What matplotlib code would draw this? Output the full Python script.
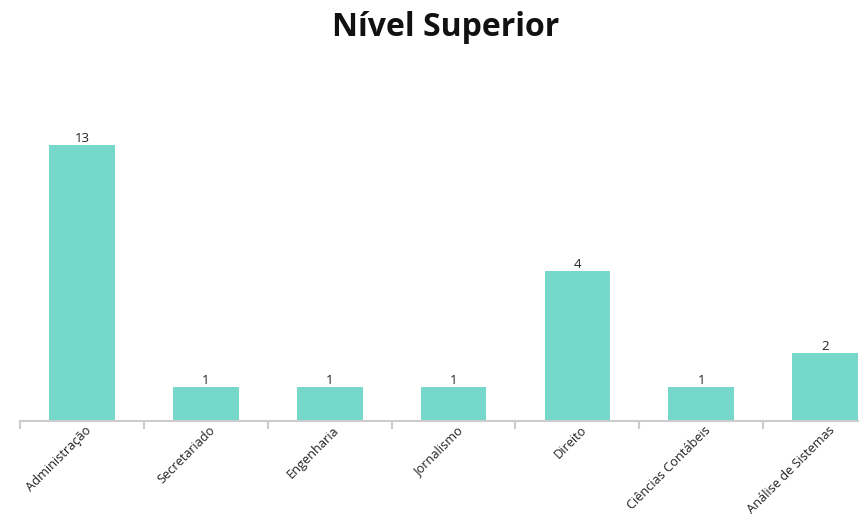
import numpy as np
import matplotlib.pyplot as plt
import matplotlib.transforms as mtransforms

# data
cursos = ["Administração", "Secretariado", "Engenharia", "Jornalismo",
          "Direito", "Ciências Contábeis", "Análise de Sistemas"]
valores = [13, 1, 1, 1, 4, 1, 2]

# the original chart uses a non-linear value axis; knots
# (value -> pixel height above the baseline)
escala_valor = [0, 1, 2, 4, 13, 30]
escala_px = [0, 34, 68, 150, 276, 514]


def forward(v):
    return np.interp(v, escala_valor, escala_px)


def inverse(p):
    return np.interp(p, escala_px, escala_valor)


plt.rcParams['font.family'] = ['Open Sans', 'DejaVu Sans']

fig = plt.figure(figsize=(8.6, 5.17), dpi=100)
ax = fig.add_axes([20 / 860, 96 / 517, 838 / 860, 321 / 517])

x = np.arange(len(cursos))
bars = ax.bar(x, valores, width=0.53, color='#76d8cb', zorder=2)
ax.set_yscale('function', functions=(forward, inverse))
ax.set_ylim(0, 16.2)
ax.set_xlim(-0.5, 6.265)

ax.bar_label(bars, labels=[str(v) for v in valores], padding=0,
             fontsize=9.5, color='#222222')

for s in ['top', 'right', 'left']:
    ax.spines[s].set_visible(False)
ax.spines['bottom'].set_color('#cccccc')
ax.spines['bottom'].set_linewidth(1.5)
ax.set_yticks([])

ax.set_xticks(x)
ax.set_xticks(np.arange(-0.5, len(cursos) - 0.5, 1.0), minor=True)
ax.tick_params(axis='x', which='major', length=0, pad=2)
ax.tick_params(axis='x', which='minor', length=6, width=1.5, color='#cccccc')
ax.set_xticklabels(cursos, rotation=45, ha='right', va='top',
                   rotation_mode='anchor', fontsize=9.2, color='#222222')
offset = mtransforms.ScaledTranslation(3 / 100, 0, fig.dpi_scale_trans)
for lbl in ax.get_xticklabels():
    lbl.set_transform(lbl.get_transform() + offset)

fig.text(446 / 860, 1 - 28 / 517, "Nível Superior", ha='center', va='center',
         fontsize=23, fontweight='bold', color='#111111')

fig.savefig("out.png", dpi=100)
